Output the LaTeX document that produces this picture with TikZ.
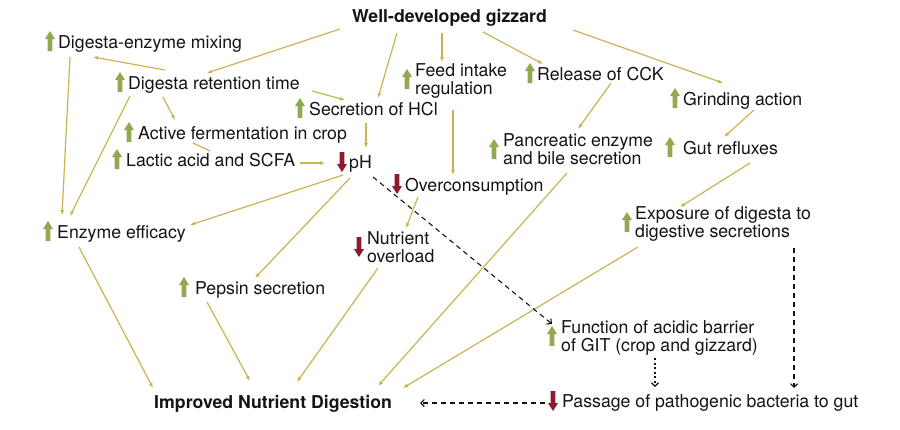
\documentclass[tikz,border=0pt]{standalone}
\usepackage{fontspec}
\setmainfont{TeX Gyre Heros}
\usetikzlibrary{arrows.meta,calc}
\definecolor{lnc}{RGB}{201,180,82}
\definecolor{upg}{RGB}{145,170,82}
\definecolor{dnr}{RGB}{140,28,45}
\definecolor{txt}{RGB}{20,20,20}
\newcommand\twol[2]{\begin{tabular}[t]{@{}l@{}}#1\\#2\end{tabular}}
\tikzset{
 upar/.pic={\fill[upg] (-2.3,10) -- (-2.3,-2) -- (-5,-2) -- (0,-10) -- (5,-2) -- (2.3,-2) -- (2.3,10) -- cycle;},
 dnar/.pic={\fill[dnr] (-2.3,-10) -- (-2.3,2) -- (-5,2) -- (0,10) -- (5,2) -- (2.3,2) -- (2.3,-10) -- cycle;},
 lbl/.style={anchor=base west,inner sep=0pt,font=\fontsize{17.7}{18}\selectfont,text=txt},
 bld/.style={lbl,font=\fontsize{17.7}{18}\selectfont\bfseries},
 con/.style={draw=lnc,line width=1.2pt,-{Latex[length=5pt,width=4pt]}},
 conp/.style={draw=lnc,line width=1.2pt},
 dsh/.style={draw=txt,line width=1.1pt,dash pattern=on 5pt off 4pt,-{Straight Barb[length=3.5pt,width=7pt]}},
 dtt/.style={draw=txt,line width=1.1pt,dash pattern=on 2pt off 2.5pt,-{Straight Barb[length=3.5pt,width=7pt]}}
}
\begin{document}
\begin{tikzpicture}[x=1pt,y=-1pt]
\useasboundingbox[fill=white] (0,0) rectangle (900,429);
% nodes
\node[bld] (giz) at (352,22) {Well-developed gizzard};
\node[lbl] (mix) at (58,48) {Digesta-enzyme mixing};
\node[lbl] (ret) at (128,89) {Digesta retention time};
\node[lbl] (hcl) at (309,115) {Secretion of HCl};
\node[lbl] (ferm) at (138,139) {Active fermentation in crop};
\node[lbl] (lac) at (126,166) {Lactic acid and SCFA};
\node[lbl] (ph) at (349,168) {pH};
\node[lbl] (feed) at (415,76) {\twol{Feed intake}{regulation}};
\node[lbl] (cck) at (537,80) {Release of CCK};
\node[lbl] (grind) at (683,105) {Grinding action};
\node[lbl] (pan) at (503,146) {\twol{Pancreatic enzyme}{and bile secretion}};
\node[lbl] (gut) at (683,154) {Gut refluxes};
\node[lbl] (over) at (405,191) {Overconsumption};
\node[lbl] (exp) at (635,219) {\twol{Exposure of digesta to}{digestive secretions}};
\node[lbl] (eff) at (57,238) {Enzyme efficacy};
\node[lbl] (nut) at (367,244) {\twol{Nutrient}{overload}};
\node[lbl] (pep) at (195,294) {Pepsin secretion};
\node[lbl] (fun) at (561,333) {\twol{Function of acidic barrier}{of GIT (crop and gizzard)}};
\node[bld] (imp) at (154,408) {Improved Nutrient Digestion};
\node[lbl] (pas) at (562,407) {Passage of pathogenic bacteria to gut};
% icons
\pic at ([shift={(-8,-7)}]mix.base west) {upar};
\pic at ([shift={(-8,-7)}]ret.base west) {upar};
\pic at ([shift={(-9,-7)}]hcl.base west) {upar};
\pic at ([shift={(-9,-7)}]ferm.base west) {upar};
\pic at ([shift={(-9,-7)}]lac.base west) {upar};
\pic at ([shift={(-7,-6)}]ph.base west) {dnar};
\pic at ([shift={(-8,3)}]feed.base west) {upar};
\pic at ([shift={(-7,-7)}]cck.base west) {upar};
\pic at ([shift={(-8,-7)}]grind.base west) {upar};
\pic at ([shift={(-9,3)}]pan.base west) {upar};
\pic at ([shift={(-13,-7)}]gut.base west) {upar};
\pic at ([shift={(-8,-7)}]over.base west) {dnar};
\pic at ([shift={(-8,3)}]exp.base west) {upar};
\pic at ([shift={(-9,-7)}]eff.base west) {upar};
\pic at ([shift={(-8,3)}]nut.base west) {dnar};
\pic at ([shift={(-11,-7)}]pep.base west) {upar};
\pic at ([shift={(-9,3)}]fun.base west) {upar};
\pic at ([shift={(-9,-6)}]pas.base west) {dnar};
% connectors
\draw[con] ([shift={(-12,7)}]giz.base west) -- ([shift={(79,-16)}]ret.base west);
\draw[con] ([shift={(37,-19)}]ret.base west) -- ([shift={(35,9)}]mix.base west);
\draw[con] ([shift={(45,11)}]giz.base west) -- ([shift={(69,-17)}]hcl.base west);
\draw[con] ([shift={(90,11)}]giz.base west) -- ([shift={(27,-14)}]feed.base west);
\draw[con] ([shift={(131,10)}]giz.base west) -- ([shift={(6,-16)}]cck.base west);
\draw[con] ([shift={(221,8)}]giz.base west) -- ([shift={(40,-22)}]grind.base west);
\draw[con] ([shift={(184,2)}]ret.base west) -- ([shift={(36,-15)}]hcl.base west);
\draw[con] ([shift={(35,8)}]ret.base west) -- ([shift={(37,-19)}]ferm.base west);
\draw[conp] ([shift={(55,4)}]ferm.base west) -- ([shift={(84,-15)}]lac.base west);
\draw[con] ([shift={(174,-3)}]lac.base west) -- ([shift={(-24,-5)}]ph.base west);
\draw[con] ([shift={(57,8)}]hcl.base west) -- ([shift={(17,-20)}]ph.base west);
\draw[con] ([shift={(12,9)}]mix.base west) -- ([shift={(5,-23)}]eff.base west);
\draw[con] ([shift={(2,7)}]ret.base west) -- ([shift={(13,-22)}]eff.base west);
\draw[con] ([shift={(-6,7)}]ph.base west) -- ([shift={(133,-13)}]eff.base west);
\draw[con] ([shift={(1,10)}]ph.base west) -- ([shift={(60,-16)}]pep.base west);
\draw[con] ([shift={(38,34)}]feed.base west) -- ([shift={(48,-16)}]over.base west);
\draw[con] ([shift={(13,6)}]over.base west) -- ([shift={(39,-16)}]nut.base west);
\draw[con] ([shift={(74,3)}]cck.base west) -- ([shift={(75,-17)}]pan.base west);
\draw[con] ([shift={(71,5)}]grind.base west) -- ([shift={(41,-17)}]gut.base west);
\draw[con] ([shift={(67,9)}]gut.base west) -- ([shift={(45,-12)}]exp.base west);
\draw[con] ([shift={(64,27)}]pan.base west) -- ([shift={(224,-22)}]imp.base west);
\draw[con] ([shift={(3,28)}]exp.base west) -- ([shift={(249,-20)}]imp.base west);
\draw[con] ([shift={(22,9)}]eff.base west) -- ([shift={(-1,-20)}]imp.base west);
\draw[con] ([shift={(12,8)}]pep.base west) -- ([shift={(96,-27)}]imp.base west);
\draw[con] ([shift={(11,24)}]nut.base west) -- ([shift={(143,-26)}]imp.base west);
\draw[dsh] ([shift={(24,9)}]ph.base west) -- ([shift={(-9,-9)}]fun.base west);
\draw[dtt] ([shift={(94,25)}]fun.base west) -- ([shift={(93,-20)}]pas.base west);
\draw[dsh] ([shift={(159,29)}]exp.base west) -- ([shift={(232,-19)}]pas.base west);
\draw[dsh] ([shift={(-17,-4)}]pas.base west) -- ([shift={(266,-5)}]imp.base west);
\end{tikzpicture}
\end{document}
